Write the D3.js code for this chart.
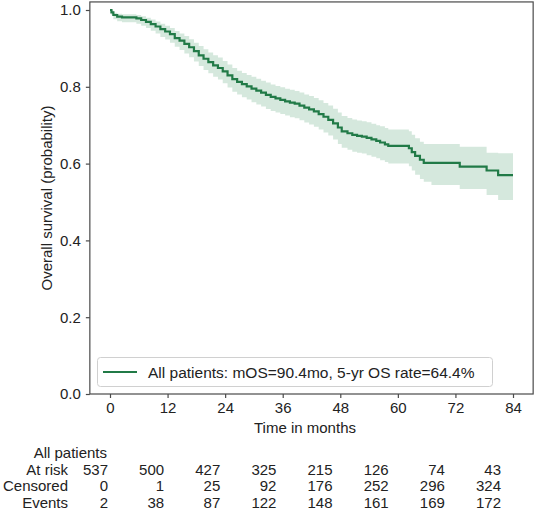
<!DOCTYPE html>
<html>
<head>
<meta charset="utf-8">
<script src="https://cdn.jsdelivr.net/npm/d3@7"></script>
<style>
  html, body { margin: 0; padding: 0; background: #fff; }
  svg { display: block; }
  text { font-family: "Liberation Sans", Arial, Helvetica, sans-serif; fill: #222; }
</style>
</head>
<body>
<div id="chart"></div>
<script>
// ---------------- data ----------------
const times = [0, 0.3, 0.7, 1.5, 2.5, 5.5, 6.5, 7.5, 8.5, 9.5, 10.5, 11.5, 12.5, 13.5, 14.5, 15.5, 16.5, 17.5, 18.5, 19.5,
  20.5, 21.5, 22.5, 23.5, 24.5, 25.5, 26.5, 27.5, 28.5, 29.5, 30.5, 31.5, 32.5, 33.5, 34.5, 35.5, 36.5, 37.5, 38.5, 39.5,
  40.5, 41.5, 42.5, 43.5, 44.5, 45.5, 46.5, 47.5, 48.3, 49.5, 50.5, 51.5, 52.5, 53.5, 54.5, 55.5, 56.3, 57.3, 58.0,
  62.3, 62.9, 63.6, 64.6, 65.4, 67.0, 72.9, 78.5, 80.9, 84];
const survival = [1.0, 0.994, 0.987, 0.983, 0.981, 0.978, 0.974, 0.969, 0.963, 0.957, 0.950, 0.944, 0.937, 0.927, 0.920, 0.912, 0.903, 0.893, 0.882, 0.873,
  0.864, 0.856, 0.849, 0.840, 0.830, 0.820, 0.813, 0.807, 0.801, 0.795, 0.790, 0.785, 0.779, 0.774, 0.770, 0.766, 0.762, 0.759, 0.756, 0.751,
  0.746, 0.741, 0.736, 0.729, 0.722, 0.714, 0.705, 0.694, 0.684, 0.679, 0.675, 0.672, 0.670, 0.667, 0.663, 0.659, 0.655, 0.650, 0.646,
  0.640, 0.630, 0.620, 0.610, 0.602, 0.602, 0.592, 0.582, 0.570, 0.570];
const ciLower = [1.0, 0.987, 0.976, 0.971, 0.968, 0.964, 0.959, 0.953, 0.946, 0.939, 0.930, 0.923, 0.915, 0.904, 0.896, 0.887, 0.877, 0.866, 0.854, 0.844,
  0.835, 0.826, 0.819, 0.809, 0.798, 0.787, 0.780, 0.773, 0.767, 0.760, 0.754, 0.749, 0.742, 0.737, 0.733, 0.729, 0.725, 0.721, 0.718, 0.713,
  0.707, 0.702, 0.696, 0.689, 0.681, 0.673, 0.663, 0.651, 0.641, 0.636, 0.631, 0.628, 0.626, 0.622, 0.618, 0.614, 0.609, 0.604, 0.600,
  0.593, 0.582, 0.571, 0.560, 0.553, 0.544, 0.534, 0.518, 0.505, 0.505];
const ciUpper = [1.0, 1.0, 0.993, 0.990, 0.989, 0.987, 0.984, 0.980, 0.975, 0.970, 0.964, 0.959, 0.953, 0.945, 0.939, 0.932, 0.924, 0.915, 0.906, 0.898,
  0.889, 0.882, 0.876, 0.867, 0.858, 0.849, 0.842, 0.836, 0.831, 0.826, 0.821, 0.816, 0.811, 0.806, 0.802, 0.799, 0.795, 0.792, 0.789, 0.785,
  0.780, 0.776, 0.771, 0.765, 0.758, 0.751, 0.743, 0.733, 0.724, 0.719, 0.715, 0.712, 0.710, 0.708, 0.704, 0.700, 0.697, 0.693, 0.689,
  0.684, 0.675, 0.666, 0.657, 0.651, 0.651, 0.644, 0.628, 0.627, 0.627];

const xTicks = [0, 12, 24, 36, 48, 60, 72, 84];
const yTicks = [0.0, 0.2, 0.4, 0.6, 0.8, 1.0];
const legendLabel = "All patients: mOS=90.4mo, 5-yr OS rate=64.4%";
const tableTitle = "All patients";
const rowLabels = ["At risk", "Censored", "Events"];
const atRisk = [537, 500, 427, 325, 215, 126, 74, 43];
const censored = [0, 1, 25, 92, 176, 252, 296, 324];
const events = [2, 38, 87, 122, 148, 161, 169, 172];

// ---------------- layout ----------------
const W = 535, H = 510;
const lineColor = "#217a47";
const bandColor = "#2e8b57";
const spineColor = "#4a4a4a";

const svg = d3.select("#chart").append("svg").attr("width", W).attr("height", H);

const x = d3.scaleLinear().domain([0, 84]).range([110, 513]);
const y = d3.scaleLinear().domain([0, 1]).range([394, 10]);
const xLim = [-4.2, 88.2];
const yLim = [0, 1.021];

const pts = times.map((t, i) => ({t, s: survival[i], lo: ciLower[i], hi: ciUpper[i]}));

// CI band
svg.append("path")
  .datum(pts)
  .attr("d", d3.area().curve(d3.curveStepAfter)
    .x(d => x(d.t)).y0(d => y(d.lo)).y1(d => y(d.hi)))
  .attr("fill", bandColor).attr("fill-opacity", 0.2).attr("stroke", "none");

// KM line
svg.append("path")
  .datum(pts)
  .attr("d", d3.line().curve(d3.curveStepAfter).x(d => x(d.t)).y(d => y(d.s)))
  .attr("fill", "none").attr("stroke", lineColor).attr("stroke-width", 2.2);

// frame
svg.append("rect")
  .attr("x", x(xLim[0])).attr("y", y(yLim[1]))
  .attr("width", x(xLim[1]) - x(xLim[0])).attr("height", y(yLim[0]) - y(yLim[1]))
  .attr("fill", "none").attr("stroke", spineColor).attr("stroke-width", 1.2);

// x axis
const xAxis = d3.axisBottom(x).tickValues(xTicks).tickSize(4).tickPadding(4).tickFormat(d3.format("d"));
const gx = svg.append("g").attr("transform", `translate(0,${y(0)})`).call(xAxis);
gx.select(".domain").remove();
gx.selectAll("line").attr("stroke", spineColor).attr("stroke-width", 1.2);
gx.selectAll("text").attr("font-size", 15).attr("fill", "#222").attr("font-family", "Liberation Sans, Arial, sans-serif");

// y axis
const yAxis = d3.axisLeft(y).tickValues(yTicks).tickSize(4).tickPadding(5).tickFormat(d3.format(".1f"));
const gy = svg.append("g").attr("transform", `translate(${x(xLim[0])},0)`).call(yAxis);
gy.select(".domain").remove();
gy.selectAll("line").attr("stroke", spineColor).attr("stroke-width", 1.2);
gy.selectAll("text").attr("font-size", 15).attr("fill", "#222").attr("font-family", "Liberation Sans, Arial, sans-serif");

// axis labels
svg.append("text").attr("x", 305).attr("y", 433).attr("text-anchor", "middle")
  .attr("font-size", 15).text("Time in months");
svg.append("text").attr("transform", "translate(52,198) rotate(-90)").attr("text-anchor", "middle")
  .attr("font-size", 15).text("Overall survival (probability)");

// legend
const lg = svg.append("g");
lg.append("rect").attr("x", 97.5).attr("y", 357.5).attr("width", 395).attr("height", 29).attr("rx", 3)
  .attr("fill", "#fff").attr("fill-opacity", 0.8).attr("stroke", "#d0d0d0").attr("stroke-width", 1);
lg.append("line").attr("x1", 103).attr("x2", 137).attr("y1", 372).attr("y2", 372)
  .attr("stroke", lineColor).attr("stroke-width", 2.2);
lg.append("text").attr("x", 148).attr("y", 377.5).attr("font-size", 15.5).text(legendLabel);

// at-risk table
const tx = d3.scaleLinear().domain([0, 84]).range([108, 501]);
svg.append("text").attr("x", 107).attr("y", 458).attr("text-anchor", "end").attr("font-size", 15).text(tableTitle);
const rows = [atRisk, censored, events];
const rowY = [474.5, 491, 507.5];
rows.forEach((vals, r) => {
  svg.append("text").attr("x", 68).attr("y", rowY[r]).attr("text-anchor", "end").attr("font-size", 15).text(rowLabels[r]);
  svg.append("g").selectAll("text").data(vals).join("text")
    .attr("x", (d, i) => tx(xTicks[i])).attr("y", rowY[r]).attr("text-anchor", "end")
    .attr("font-size", 15).text(d => d);
});
</script>
</body>
</html>
